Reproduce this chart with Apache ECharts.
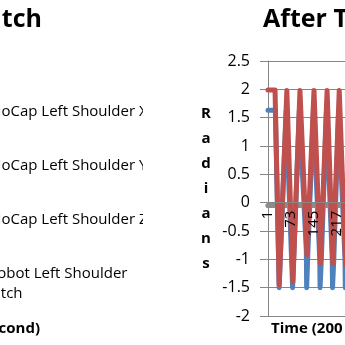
<!DOCTYPE html>
<html>
<head>
<meta charset="utf-8">
<script src="https://cdn.jsdelivr.net/npm/echarts@6/dist/echarts.min.js"></script>
<style>
html,body{margin:0;padding:0;background:#fff;}
#chart{width:345px;height:345px;}
</style>
</head>
<body>
<div id="chart"></div>
<script>
// ---- data ----
const xTickLabels = [1, 73, 145, 217];
const seriesNames = ['MoCap Left Shoulder X', 'MoCap Left Shoulder Y', 'MoCap Left Shoulder Z', 'Robot Left Shoulder Pitch'];

const mocapXSample = [1, 24, 36, 39, 58, 62, 78, 82, 99, 103, 121, 122, 125, 126, 143, 147, 163, 164, 167, 168, 184, 188, 202, 203, 206, 207, 222, 226, 242, 243, 246, 247];
const mocapXValue  = [1.63, 1.63, -1.5, -1.5, 1.62, 1.62, -1.5, -1.5, 1.62, 1.62, -0.85, -1.5, -1.5, -0.85, 1.62, 1.62, -1.0, -1.5, -1.5, -1.0, 1.62, 1.62, -1.0, -1.5, -1.5, -1.0, 1.62, 1.62, -1.0, -1.5, -1.5, -1.0];

const mocapYSample = [1, 289];
const mocapYValue  = [-0.05, -0.05];

const mocapZSample = [1, 289];
const mocapZValue  = [-0.05, -0.05];

const robotSample = [1, 23, 36, 60, 79, 101, 123, 145, 165, 186, 204, 224, 244];
const robotValue  = [1.99, 1.99, -1.45, 1.98, -1.4, 1.98, -0.92, 1.98, -1.07, 1.98, -1.07, 1.98, -1.1];

const yMin = -2, yMax = 2.5;

const pairs = (xs, ys) => xs.map((x, i) => [x, ys[i]]);

const FONT = 'Open Sans';
const GRID_TOP = 61, GRID_BOTTOM = 29, H = 345;
const gridHeight = H - GRID_TOP - GRID_BOTTOM;
// category axis drawn where the value axis crosses zero (Excel style)
const zeroOffset = -gridHeight * (0 - yMin) / (yMax - yMin);

const chart = echarts.init(document.getElementById('chart'), null, {renderer: 'canvas'});

const lineSeries = (name, xs, ys, color, width) => ({
  name: name,
  type: 'line',
  data: pairs(xs, ys),
  showSymbol: false,
  symbol: 'none',
  animation: false,
  lineStyle: {color: color, width: width, cap: 'round', join: 'round'},
  itemStyle: {color: color}
});

chart.setOption({
  animation: false,
  backgroundColor: '#fff',
  title: [
    {text: 'Before Training Pitch', right: 303, top: 7, padding: 0,
     textStyle: {fontFamily: FONT, fontWeight: 'bold', fontSize: 25, color: '#000'}},
    {text: 'After Training Pitch', left: 263, top: 7, padding: 0,
     textStyle: {fontFamily: FONT, fontWeight: 'bold', fontSize: 25, color: '#000'}},
    {text: 'Time (200 per second)', right: 305, top: 321, padding: 0,
     textStyle: {fontFamily: FONT, fontWeight: 'bold', fontSize: 15, color: '#000'}},
    {text: 'Time (200 per second)', left: 271, top: 321, padding: 0,
     textStyle: {fontFamily: FONT, fontWeight: 'bold', fontSize: 15, color: '#000'}}
  ],
  legend: {
    orient: 'vertical',
    left: -43,
    top: 102,
    padding: 0,
    itemWidth: 25,
    itemHeight: 14,
    itemGap: 34,
    data: seriesNames,
    formatter: n => n === 'Robot Left Shoulder Pitch' ? 'Robot Left Shoulder\nPitch' : n,
    textStyle: {fontFamily: FONT, fontSize: 15, color: '#000', lineHeight: 20}
  },
  graphic: [
    {type: 'rect', left: 143, top: 95, z: 100, shape: {width: 22, height: 135}, style: {fill: '#fff'}}
  ],
  grid: {left: 268, top: GRID_TOP, bottom: GRID_BOTTOM, right: -15, containLabel: false, outerBoundsMode: 'none'},
  xAxis: {
    type: 'value',
    min: 1,
    max: 289,
    offset: zeroOffset,
    z: 10,
    axisLine: {show: true, onZero: false, lineStyle: {color: '#868686', width: 1}},
    axisTick: {show: false},
    splitLine: {show: false},
    axisLabel: {
      customValues: xTickLabels,
      rotate: 90,
      margin: 8,
      fontFamily: FONT,
      fontSize: 15,
      color: '#000'
    }
  },
  yAxis: {
    type: 'value',
    min: yMin,
    max: yMax,
    interval: 0.5,
    name: 'R\na\nd\ni\na\nn\ns',
    nameLocation: 'middle',
    nameRotate: 0,
    nameGap: 62,
    nameTextStyle: {fontFamily: FONT, fontWeight: 'bold', fontSize: 15, color: '#000', lineHeight: 25, align: 'center', padding: [27, 0, 0, 0]},
    axisLine: {show: true, lineStyle: {color: '#868686', width: 1}},
    axisTick: {show: true, inside: false, length: 8, lineStyle: {color: '#868686'}},
    splitLine: {show: true, lineStyle: {color: '#868686', width: 1}},
    axisLabel: {margin: 18, fontFamily: FONT, fontSize: 16, color: '#000'}
  },
  series: [
    lineSeries(seriesNames[0], mocapXSample, mocapXValue, '#4F81BD', 5),
    lineSeries(seriesNames[1], mocapYSample, mocapYValue, '#9BBB59', 5),
    lineSeries(seriesNames[2], mocapZSample, mocapZValue, '#8C8C8C', 5),
    lineSeries(seriesNames[3], robotSample, robotValue, '#C0504D', 5)
  ]
});
</script>
</body>
</html>
